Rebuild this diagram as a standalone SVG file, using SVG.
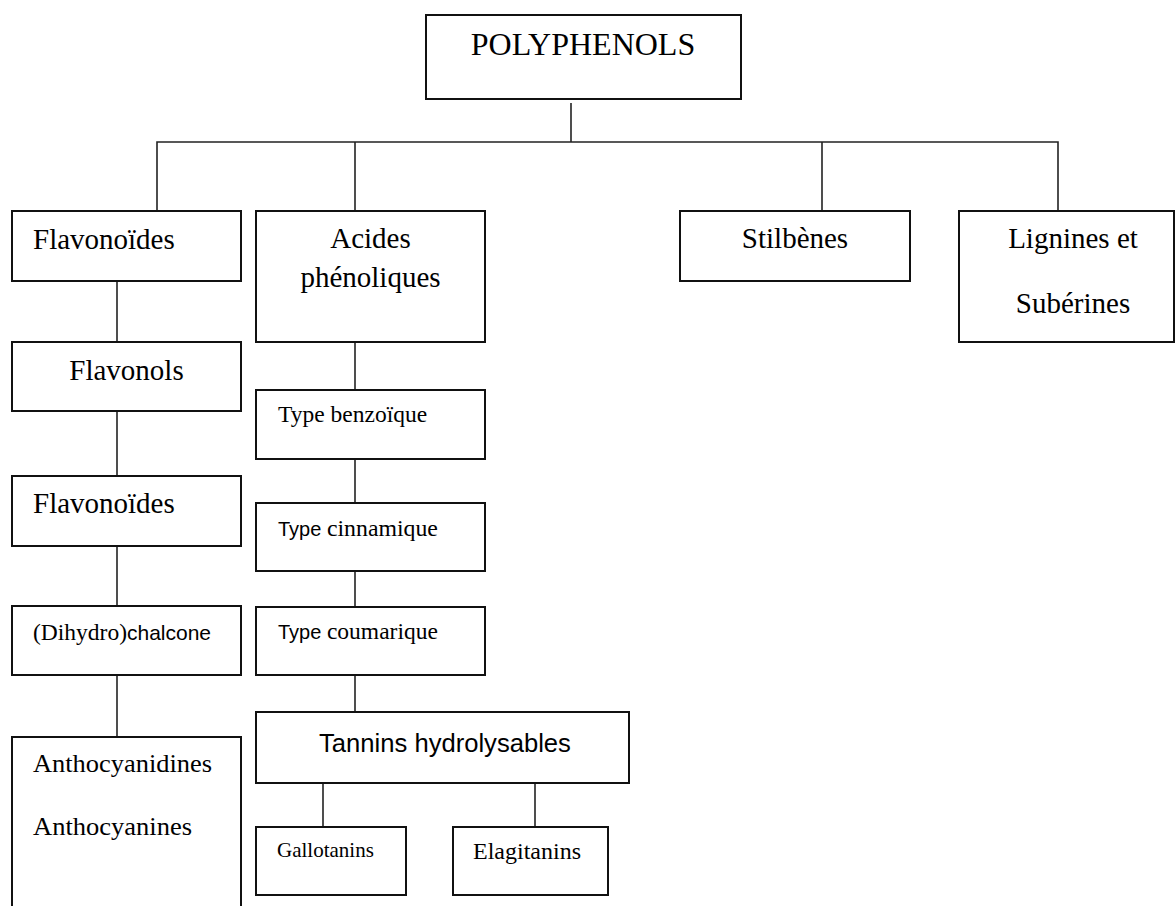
<svg xmlns="http://www.w3.org/2000/svg" width="1176" height="906" viewBox="0 0 1176 906">
  <style>
    .box { fill: #fff; stroke: #111; stroke-width: 2; }
    .link { fill: none; stroke: #222; stroke-width: 1.6; }
    .serif { font-family: "Liberation Serif", "Times New Roman", serif; fill: #000; }
    .sans { font-family: "Liberation Sans", Arial, sans-serif; fill: #000; }
    .c { text-anchor: middle; }
  </style>
  <rect width="1176" height="906" fill="#fff"/>

  <!-- connectors -->
  <g id="connectors" class="link">
    <path d="M571 103 V142"/>
    <path d="M157 211 V142 H1058 V211"/>
    <path d="M355 142 V211"/>
    <path d="M822 142 V211"/>
    <path d="M117 281 V342"/>
    <path d="M117 411 V476"/>
    <path d="M117 546 V606"/>
    <path d="M117 675 V737"/>
    <path d="M355 342 V390"/>
    <path d="M355 459 V503"/>
    <path d="M355 571 V607"/>
    <path d="M355 675 V712"/>
    <path d="M323 783 V827"/>
    <path d="M535 783 V827"/>
  </g>

  <g id="polyphenols">
    <rect class="box" x="426" y="15" width="315" height="84"/>
    <text class="serif c" x="583" y="55" font-size="32">POLYPHENOLS</text>
  </g>

  <g id="flavonoides">
    <rect class="box" x="12" y="211" width="229" height="70"/>
    <text class="serif" x="33" y="249" font-size="29">Flavonoïdes</text>
  </g>

  <g id="acides-phenoliques">
    <rect class="box" x="256" y="211" width="229" height="131"/>
    <text class="serif c" x="370.5" y="248" font-size="29">Acides</text>
    <text class="serif c" x="370.5" y="287" font-size="29">phénoliques</text>
  </g>

  <g id="stilbenes">
    <rect class="box" x="680" y="211" width="230" height="70"/>
    <text class="serif c" x="795" y="248" font-size="29">Stilbènes</text>
  </g>

  <g id="lignines">
    <rect class="box" x="959" y="211" width="215" height="131"/>
    <text class="serif c" x="1073" y="248" font-size="29">Lignines et</text>
    <text class="serif c" x="1073" y="313" font-size="29">Subérines</text>
  </g>

  <g id="flavonols">
    <rect class="box" x="12" y="342" width="229" height="69"/>
    <text class="serif c" x="126.5" y="380" font-size="29">Flavonols</text>
  </g>

  <g id="flavonoides-2">
    <rect class="box" x="12" y="476" width="229" height="70"/>
    <text class="serif" x="33" y="513" font-size="29">Flavonoïdes</text>
  </g>

  <g id="dihydrochalcone">
    <rect class="box" x="12" y="606" width="229" height="69"/>
    <text x="33" y="640"><tspan class="serif" font-size="23.5">(Dihydro)</tspan><tspan class="sans" font-size="21">chalcone</tspan></text>
  </g>

  <g id="anthocyanes">
    <rect class="box" x="12" y="737" width="229" height="190"/>
    <text class="serif" x="33" y="772" font-size="24.5" textLength="179" lengthAdjust="spacingAndGlyphs">Anthocyanidines</text>
    <text class="serif" x="33" y="835" font-size="24.5" textLength="159" lengthAdjust="spacingAndGlyphs">Anthocyanines</text>
  </g>

  <g id="type-benzoique">
    <rect class="box" x="256" y="390" width="229" height="69"/>
    <text class="serif" x="278" y="422" font-size="23.5">Type benzoïque</text>
  </g>

  <g id="type-cinnamique">
    <rect class="box" x="256" y="503" width="229" height="68"/>
    <text x="278" y="536"><tspan class="sans" font-size="20">Type </tspan><tspan class="serif" font-size="23.8">cinnamique</tspan></text>
  </g>

  <g id="type-coumarique">
    <rect class="box" x="256" y="607" width="229" height="68"/>
    <text x="278" y="639"><tspan class="sans" font-size="20">Type </tspan><tspan class="serif" font-size="23.5">coumarique</tspan></text>
  </g>

  <g id="tannins">
    <rect class="box" x="256" y="712" width="373" height="71"/>
    <text class="sans c" x="445" y="752" font-size="25.6">Tannins hydrolysables</text>
  </g>

  <g id="gallotanins">
    <rect class="box" x="256" y="827" width="150" height="68"/>
    <text class="serif" x="277" y="857" font-size="21">Gallotanins</text>
  </g>

  <g id="elagitanins">
    <rect class="box" x="453" y="827" width="155" height="68"/>
    <text class="serif" x="473" y="859" font-size="24">Elagitanins</text>
  </g>
</svg>
